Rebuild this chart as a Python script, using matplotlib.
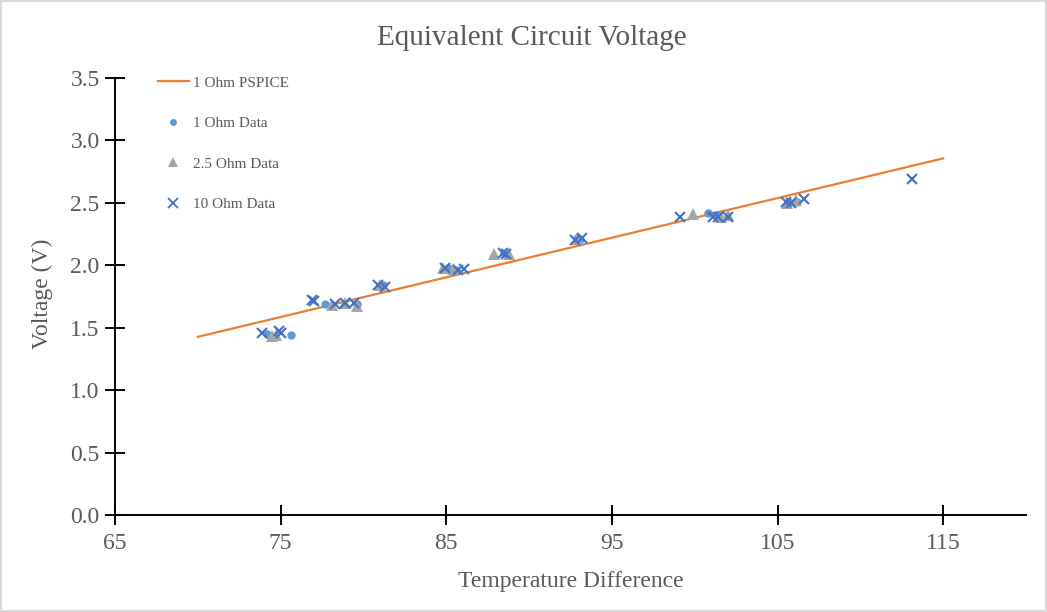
import matplotlib
matplotlib.use("Agg")
import matplotlib.pyplot as plt
from matplotlib.lines import Line2D

# ---- data ----
pspice_x = [70, 115]
pspice_y = [1.427, 2.856]

ohm1_x = [74.2, 75.6, 77.7, 79.6, 81.2, 85.1, 85.6, 88.5, 92.9, 93.1, 100.8, 101.3, 105.7, 106.2]
ohm1_y = [1.45, 1.44, 1.69, 1.69, 1.84, 1.98, 1.96, 2.10, 2.22, 2.21, 2.42, 2.40, 2.51, 2.51]

ohm25_x = [74.5, 74.7, 78.1, 78.9, 79.6, 81.0, 84.8, 85.4, 87.9, 88.8, 92.9, 99.9, 101.6, 102.0, 105.6, 106.1]
ohm25_y = [1.43, 1.44, 1.68, 1.70, 1.67, 1.84, 1.98, 1.97, 2.09, 2.09, 2.21, 2.41, 2.39, 2.40, 2.50, 2.52]

ohm10_x = [73.9, 74.9, 75.0, 76.9, 77.0, 78.3, 78.9, 79.4, 80.9, 81.3, 84.9, 85.7, 86.1, 88.4, 88.6,
           92.8, 93.2, 99.1, 101.1, 101.4, 102.0, 105.5, 105.8, 106.6, 113.1]
ohm10_y = [1.46, 1.47, 1.46, 1.72, 1.71, 1.69, 1.70, 1.70, 1.84, 1.83, 1.98, 1.96, 1.97, 2.10, 2.09,
           2.20, 2.22, 2.39, 2.39, 2.39, 2.39, 2.51, 2.50, 2.53, 2.69]

x_ticks = [65, 75, 85, 95, 105, 115]
y_ticks = [0.0, 0.5, 1.0, 1.5, 2.0, 2.5, 3.0, 3.5]

title = "Equivalent Circuit Voltage"
xlabel = "Temperature Difference"
ylabel = "Voltage (V)"
labels = ["1 Ohm PSPICE", "1 Ohm Data", "2.5 Ohm Data", "10 Ohm Data"]

# ---- style ----
plt.rcParams['font.family'] = ['Liberation Serif', 'DejaVu Serif']
txt = '#595959'
W, H = 1047, 612
fig = plt.figure(figsize=(W / 100, H / 100), dpi=100)
fig.patch.set_edgecolor('#d9d9d9')
fig.patch.set_linewidth(1.5)
ax = fig.add_axes([115 / W, 1 - 515 / H, (1026 - 115) / W, (515 - 78) / H])

ax.plot(pspice_x, pspice_y, color='#ED7D31', lw=1.6, zorder=2)
ax.plot(ohm1_x, ohm1_y, 'o', color='#5B9BD5', ms=6, mew=0, zorder=3)
ax.plot(ohm25_x, ohm25_y, '^', color='#A5A5A5', ms=8, mew=0, zorder=4)
ax.plot(ohm10_x, ohm10_y, 'x', color='#4472C4', ms=7.5, mew=1.5, zorder=5)

ax.set_xlim(65, 120)
ax.set_ylim(0, 3.5)
ax.set_xticks(x_ticks)
ax.set_yticks(y_ticks)
ax.set_yticklabels([f"{v:.1f}" for v in y_ticks])
for s in ['top', 'right']:
    ax.spines[s].set_visible(False)
for s in ['left', 'bottom']:
    ax.spines[s].set_linewidth(1.4)
    ax.spines[s].set_color('black')
    ax.spines[s].set_zorder(1)
ax.tick_params(direction='inout', length=14, width=1.4, color='black',
               labelsize=17, labelcolor=txt)
ax.tick_params(axis='x', pad=6)
ax.tick_params(axis='y', pad=4)

fig.text(532 / W, 1 - 38 / H, title, ha='center', va='center', fontsize=21, color=txt)
fig.text(571 / W, 1 - 582 / H, xlabel, ha='center', va='center', fontsize=17, color=txt)
fig.text(42 / W, 1 - 294 / H, ylabel, ha='center', va='center', fontsize=17, color=txt,
         rotation=90)

handles = [
    Line2D([], [], color='#ED7D31', lw=1.6),
    Line2D([], [], ls='none', marker='o', color='#5B9BD5', ms=5, mew=0),
    Line2D([], [], ls='none', marker='^', color='#A5A5A5', ms=7, mew=0),
    Line2D([], [], ls='none', marker='x', color='#4472C4', ms=7, mew=1.3),
]
leg = fig.legend(handles, labels, loc='upper left', bbox_to_anchor=(158 / W, 1 - 76 / H),
                 bbox_transform=fig.transFigure, frameon=False, fontsize=11,
                 labelspacing=1.75, handlelength=2.0, handletextpad=0.3,
                 borderpad=0, borderaxespad=0)
for t in leg.get_texts():
    t.set_color(txt)

fig.savefig('out.png', dpi=100)
